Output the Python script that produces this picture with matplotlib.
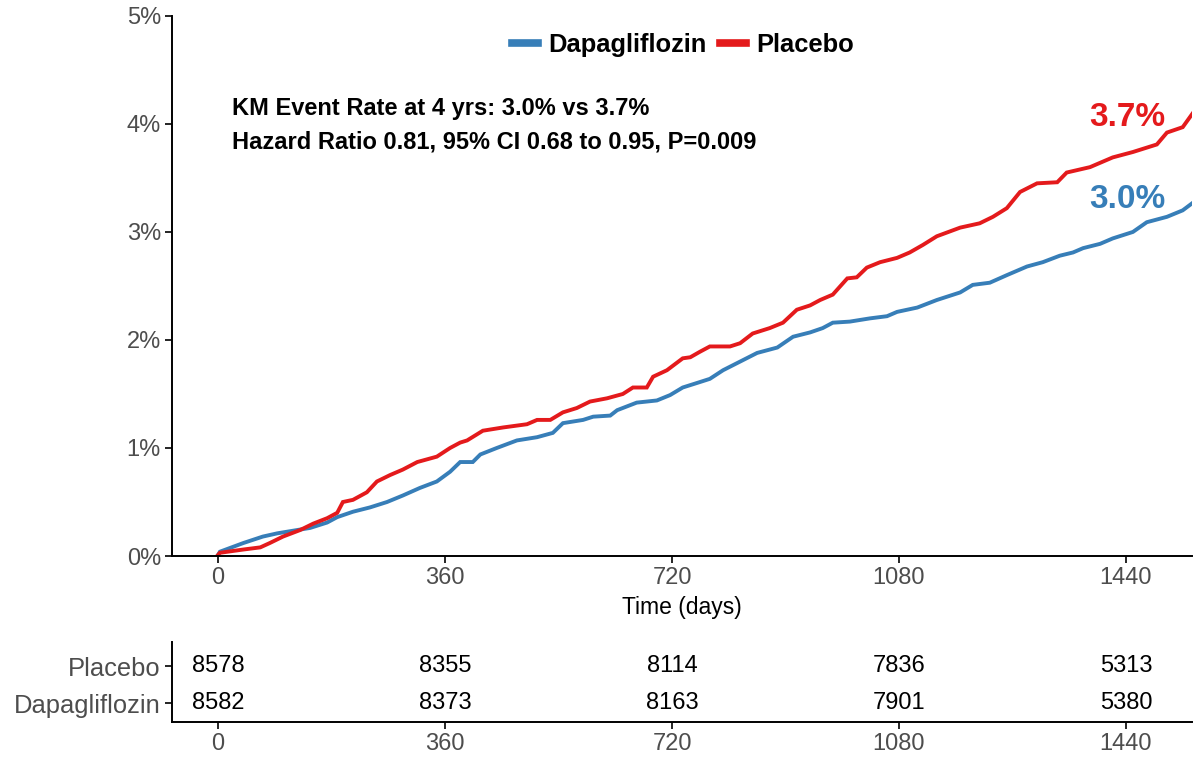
import numpy as np
import matplotlib.pyplot as plt
from matplotlib.lines import Line2D

plt.rcParams['font.family'] = ['Liberation Sans', 'DejaVu Sans']

# Kaplan-Meier cumulative incidence (%), read at event times (days)
placebo_days = [0, 3, 40, 67, 82, 103, 130, 151, 173, 189, 198, 214, 236, 252, 273, 293,
                316, 347, 368, 384, 395, 420, 452, 490, 506, 527, 547, 569, 590, 617,
                642, 658, 680, 690, 712, 737, 749, 764, 780, 812, 828, 848, 875, 896,
                918, 939, 955, 975, 998, 1013, 1029, 1050, 1077, 1097, 1118, 1140,
                1177, 1208, 1229, 1251, 1272, 1299, 1331, 1346, 1383, 1419, 1451,
                1489, 1505, 1530, 1546]
placebo_pct = [0.01, 0.03, 0.06, 0.08, 0.12, 0.18, 0.24, 0.30, 0.35, 0.40, 0.50, 0.52,
               0.59, 0.69, 0.75, 0.80, 0.87, 0.92, 1.00, 1.05, 1.07, 1.16, 1.19, 1.22,
               1.26, 1.26, 1.33, 1.37, 1.43, 1.46, 1.50, 1.56, 1.56, 1.66, 1.72, 1.83,
               1.84, 1.89, 1.94, 1.94, 1.97, 2.06, 2.11, 2.16, 2.28, 2.32, 2.37, 2.42,
               2.57, 2.58, 2.67, 2.72, 2.76, 2.81, 2.88, 2.96, 3.04, 3.08, 3.14, 3.22,
               3.37, 3.45, 3.46, 3.55, 3.60, 3.69, 3.74, 3.81, 3.92, 3.97, 4.10]

dapa_days = [0, 3, 40, 71, 94, 125, 146, 173, 189, 214, 241, 268, 293, 320, 347, 368,
             384, 404, 416, 442, 474, 506, 531, 547, 579, 595, 622, 633, 664, 696, 717,
             737, 764, 780, 801, 828, 855, 887, 912, 939, 959, 975, 1002, 1034, 1061,
             1077, 1109, 1140, 1177, 1197, 1224, 1251, 1283, 1308, 1335, 1356, 1372,
             1399, 1419, 1451, 1473, 1505, 1530, 1546]
dapa_pct = [0.01, 0.04, 0.12, 0.18, 0.21, 0.24, 0.26, 0.31, 0.36, 0.41, 0.45, 0.50,
            0.56, 0.63, 0.69, 0.78, 0.87, 0.87, 0.94, 1.00, 1.07, 1.10, 1.14, 1.23,
            1.26, 1.29, 1.30, 1.35, 1.42, 1.44, 1.49, 1.56, 1.61, 1.64, 1.72, 1.80,
            1.88, 1.93, 2.03, 2.07, 2.11, 2.16, 2.17, 2.20, 2.22, 2.26, 2.30, 2.37,
            2.44, 2.51, 2.53, 2.60, 2.68, 2.72, 2.78, 2.81, 2.85, 2.89, 2.94, 3.00,
            3.09, 3.14, 3.20, 3.27]

# numbers at risk
risk_days = [0, 360, 720, 1080, 1440]
risk_placebo = [8578, 8355, 8114, 7836, 5313]
risk_dapa = [8582, 8373, 8163, 7901, 5380]

rate_dapa = "3.0%"
rate_placebo = "3.7%"

red = '#E41A1C'
blue = '#377EB8'
grey = '#4D4D4D'

fig = plt.figure(figsize=(12.03, 7.57), dpi=100)
ax = fig.add_axes([0.143, 0.2655, 0.848, 0.7135])

ax.plot(dapa_days, dapa_pct, color=blue, lw=2.8, solid_joinstyle='miter')
ax.plot(placebo_days, placebo_pct, color=red, lw=2.8, solid_joinstyle='miter')

ax.set_xlim(-73, 1545)
ax.set_ylim(0, 5)
ax.set_xticks(risk_days)
ax.set_yticks(range(6))
ax.set_yticklabels([f'{i}%' for i in range(6)])
ax.set_xlabel('Time (days)', fontsize=16.5, labelpad=5)
for s in ['top', 'right']:
    ax.spines[s].set_visible(False)
for s in ['left', 'bottom']:
    ax.spines[s].set_linewidth(1.4)
ax.tick_params(labelsize=17, colors=grey, width=1.2, length=5, pad=3)
ax.tick_params(axis='both', labelcolor=grey, color='black')

ax.text(1502, 4.06, rate_placebo, color=red, fontsize=24, fontweight='bold',
        ha='right', va='center')
ax.text(1502, 3.30, rate_dapa, color=blue, fontsize=24, fontweight='bold',
        ha='right', va='center')

fig.text(232 / 1203, 1 - 108 / 757, 'KM Event Rate at 4 yrs: 3.0% vs 3.7%',
         fontsize=17, fontweight='bold', va='center')
fig.text(232 / 1203, 1 - 142 / 757, 'Hazard Ratio 0.81, 95% CI 0.68 to 0.95, P=0.009',
         fontsize=17, fontweight='bold', va='center')

handles = [Line2D([], [], color=blue, lw=5.5), Line2D([], [], color=red, lw=5.5)]
fig.legend(handles, ['Dapagliflozin', 'Placebo'], loc='center',
           bbox_to_anchor=(683 / 1203, 1 - 45 / 757), ncol=2, frameon=False,
           prop={'weight': 'bold', 'size': 18.4}, handlelength=1.0,
           handletextpad=0.4, columnspacing=0.55)

# risk table
rt = fig.add_axes([0.143, 0.046, 0.848, 0.1057])
rt.set_xlim(-73, 1545)
rt.set_ylim(-0.51, 1.65)
for x, n in zip(risk_days, risk_placebo):
    rt.text(x, 1, str(n), ha='center', va='center', fontsize=17)
for x, n in zip(risk_days, risk_dapa):
    rt.text(x, 0, str(n), ha='center', va='center', fontsize=17)
rt.set_xticks(risk_days)
rt.set_yticks([0, 1])
rt.set_yticklabels(['Dapagliflozin', 'Placebo'])
for s in ['top', 'right']:
    rt.spines[s].set_visible(False)
for s in ['left', 'bottom']:
    rt.spines[s].set_linewidth(1.4)
rt.tick_params(labelsize=17, colors=grey, width=1.2, length=5, pad=3)
rt.tick_params(axis='both', labelcolor=grey, color='black')
rt.tick_params(axis='y', labelsize=18.4)

fig.savefig('out.png', dpi=100)
